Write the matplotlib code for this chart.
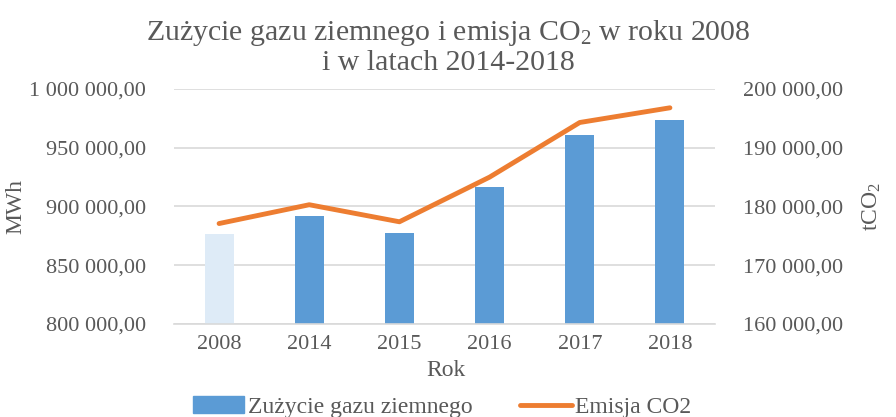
import matplotlib.pyplot as plt
from matplotlib.ticker import FuncFormatter
from matplotlib.patches import Patch
from matplotlib.lines import Line2D

plt.rcParams['font.family'] = ['Liberation Serif', 'DejaVu Serif']
plt.rcParams['mathtext.fontset'] = 'custom'
plt.rcParams['mathtext.rm'] = 'Liberation Serif'
plt.rcParams['mathtext.it'] = 'Liberation Serif:italic'

years = ['2008', '2014', '2015', '2016', '2017', '2018']
gas_mwh = [876800, 892000, 877400, 917000, 961200, 973800]
co2_t = [177100, 180300, 177400, 185000, 194300, 196800]

blue = '#5b9bd5'
light_blue = '#deebf7'
orange = '#ed7d31'
grey_txt = '#595959'
grid_col = '#d9d9d9'


def pl_fmt(v, pos):
    return f"{v:,.2f}".replace(',', ' ').replace('.', ',')


fig = plt.figure(figsize=(8.96, 4.17), dpi=100)
ax = fig.add_axes([174 / 896, 1 - 324 / 417, 541 / 896, 235 / 417])
ax2 = ax.twinx()

x = list(range(len(years)))
colors = [light_blue] + [blue] * (len(years) - 1)
ax.bar(x, gas_mwh, width=0.32, color=colors, zorder=2)
ax.set_ylim(800000, 1000000)
ax.set_yticks([800000, 850000, 900000, 950000, 1000000])
ax.set_xlim(-0.5, len(years) - 0.5)
ax.set_xticks(x)
ax.set_xticklabels(years)
ax.yaxis.set_major_formatter(FuncFormatter(pl_fmt))
ax.grid(axis='y', color=grid_col, lw=1.2, zorder=0)
ax.set_axisbelow(True)

ax2.plot(x, co2_t, color=orange, lw=3.5, solid_capstyle='round', solid_joinstyle='round', zorder=3)
ax2.set_ylim(160000, 200000)
ax2.set_yticks([160000, 170000, 180000, 190000, 200000])
ax2.yaxis.set_major_formatter(FuncFormatter(pl_fmt))

for a in (ax, ax2):
    for s in a.spines.values():
        s.set_visible(False)
    a.tick_params(length=0, labelsize=16, colors=grey_txt)
ax.spines['bottom'].set_visible(True)
ax.spines['bottom'].set_color(grid_col)
ax.spines['bottom'].set_linewidth(1.2)
ax.tick_params(axis='y', pad=20)
ax2.tick_params(axis='y', pad=20)
ax.tick_params(axis='x', pad=8)

fig.text(0.5, 1 - 47 / 417, 'Zużycie gazu ziemnego i emisja CO$_2$ w roku 2008\ni w latach 2014-2018',
         ha='center', va='center', fontsize=21.5, color=grey_txt, linespacing=1.05)
fig.text(446 / 896, 1 - 371 / 417, 'Rok', ha='center', va='center', fontsize=17, color=grey_txt)
fig.text(16 / 896, 1 - 207 / 417, 'MWh', ha='center', va='center', rotation=90, fontsize=17, color=grey_txt)
fig.text(872 / 896, 1 - 207 / 417, 'tCO$_2$', ha='center', va='center', rotation=90, fontsize=17, color=grey_txt)

handles = [Patch(color=blue), Line2D([], [], color=orange, lw=3.5, solid_capstyle='round')]
fig.legend(handles, ['Zużycie gazu ziemnego', 'Emisja CO2'], loc='center', bbox_to_anchor=(442 / 896, 1 - 407 / 417),
           ncol=2, frameon=False, fontsize=17, labelcolor=grey_txt, handlelength=2.2, handletextpad=0.15,
           columnspacing=2.0)

fig.savefig('out.png', dpi=100)
